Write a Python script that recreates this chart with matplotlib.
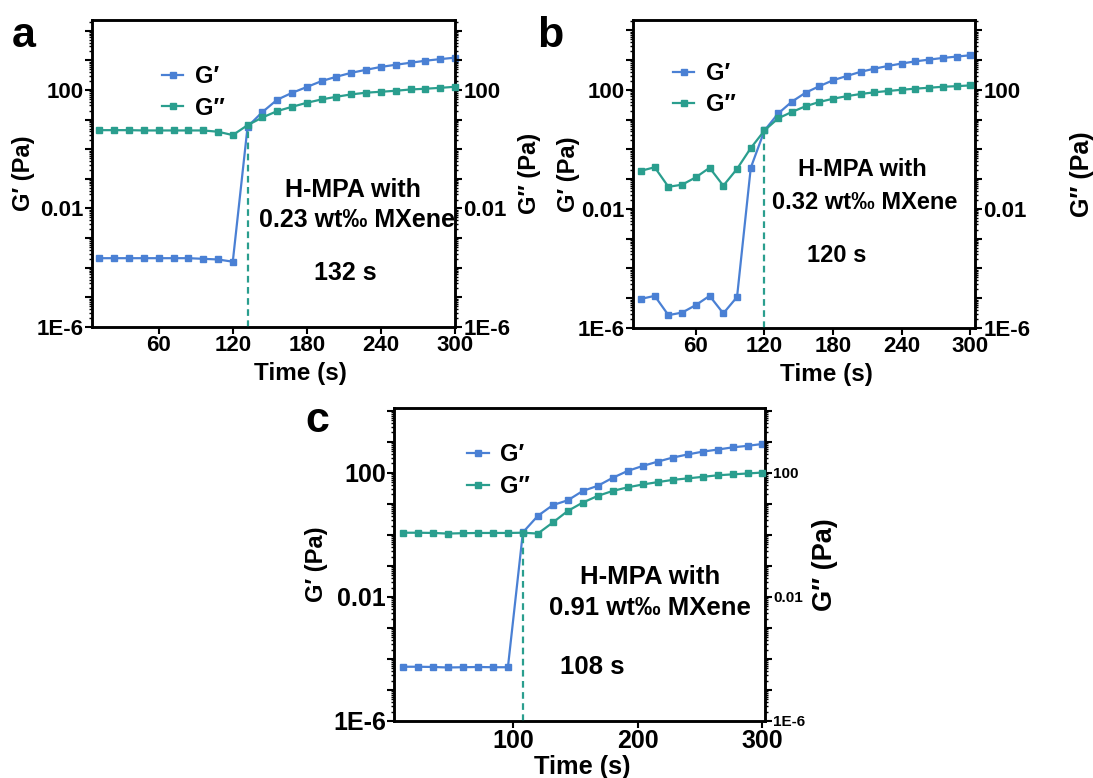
import numpy as np
import matplotlib
matplotlib.use("Agg")
import matplotlib.pyplot as plt
from matplotlib.ticker import LogLocator, FuncFormatter, NullFormatter

plt.rcParams["font.family"] = ["Liberation Sans", "DejaVu Sans"]
plt.rcParams["font.weight"] = "bold"
plt.rcParams["axes.labelweight"] = "bold"

# ---------- data ----------
time_s = [12, 24, 36, 48, 60, 72, 84, 96, 108, 120, 132, 144, 156,
          168, 180, 192, 204, 216, 228, 240, 252, 264, 276, 288, 300]

# (a) 0.23 wt‰
g1_a = [2.1e-4, 2.1e-4, 2.1e-4, 2.1e-4, 2.1e-4, 2.1e-4, 2.1e-4, 2.0e-4, 1.9e-4,
        1.6e-4, 5.8, 18, 47, 80, 126, 200, 280, 380, 480, 600, 710, 830,
        970, 1100, 1230]
g2_a = [4.4, 4.4, 4.4, 4.3, 4.3, 4.3, 4.3, 4.3, 3.9, 3.0, 6.5, 11.8, 19.4,
        27, 37, 48, 59, 71, 81, 87, 94, 104, 110, 118, 128]

# (b) 0.32 wt‰
g1_b = [9.5e-6, 1.2e-5, 2.7e-6, 3.3e-6, 5.9e-6, 1.2e-5, 3.1e-6, 1.1e-5, 0.24,
        4.3, 16, 40, 80, 132, 209, 290, 400, 510, 630, 760, 900, 1030,
        1170, 1300, 1440]
g2_b = [0.19, 0.25, 0.055, 0.065, 0.115, 0.24, 0.06, 0.22, 1.1, 4.3, 11, 18,
        28, 39, 50, 61, 72, 82, 91, 100, 109, 117, 126, 132, 140]

# (c) 0.91 wt‰
g1_c = [5.6e-5, 5.6e-5, 5.5e-5, 5.3e-5, 5.4e-5, 5.5e-5, 5.4e-5, 5.4e-5, 1.2,
        4.1, 9.1, 13, 26, 38, 69, 115, 166, 229, 309, 390, 480, 560, 660,
        740, 850]
g2_c = [1.17, 1.17, 1.15, 1.1, 1.13, 1.15, 1.15, 1.15, 1.17, 1.1, 2.5, 5.9,
        11, 18, 26, 34, 42, 50, 59, 66, 74, 83, 89, 95, 102]

gel_times = [132, 120, 108]
panel_tags = ["a", "b", "c"]
sample_text = ["0.23 wt\u2030 MXene", "0.32 wt\u2030 MXene", "0.91 wt\u2030 MXene"]
x_ticks = [[60, 120, 180, 240, 300], [60, 120, 180, 240, 300], [100, 200, 300]]

BLUE = "#4a80d4"
TEAL = "#2a9e8e"

# ---------- layout per panel ----------
# fs: tick labels, rfs: right tick labels, xfs/yfs/rfs_lab: axis labels, afs: annotation
panels = [
    dict(rect=[0.0842, 0.5797, 0.3321, 0.3946], xlim=(6, 300), ylim=(1e-6, 2.3e4),
         g1=g1_a, g2=g2_a, fs=16, rfs=16, xfs=17.5, yfs=17, ryfs=17, afs=18,
         leg=(0.193, 0.853), txt=[(0.719, 0.446), (0.730, 0.349), (0.697, 0.176)],
         xl=(0.573, -0.114), yl=-0.157, yr=1.174, tag=(12, 47)),
    dict(rect=[0.5791, 0.5784, 0.3129, 0.3959], xlim=(5, 304), ylim=(1e-6, 2.2e4),
         g1=g1_b, g2=g2_b, fs=16, rfs=16, xfs=17.5, yfs=17, ryfs=18, afs=17,
         leg=(0.117, 0.864), txt=[(0.670, 0.513), (0.678, 0.409), (0.596, 0.237)],
         xl=(0.566, -0.114), yl=-0.155, yr=1.278, tag=(537, 47)),
    dict(rect=[0.3608, 0.0733, 0.3391, 0.4019], xlim=(5, 302), ylim=(1e-6, 1.2e4),
         g1=g1_c, g2=g2_c, fs=18, rfs=11, xfs=18.3, yfs=17, ryfs=19.5, afs=18.5,
         leg=(0.197, 0.888), txt=[(0.690, 0.460), (0.690, 0.361), (0.534, 0.173)],
         xl=(0.506, -0.109), yl=-0.178, yr=1.127, tag=(305, 432)),
]

LABELED = {1e-6: "1E-6", 1e-2: "0.01", 1e2: "100"}


def fmt(v, pos):
    for k, s in LABELED.items():
        if abs(np.log10(v) - np.log10(k)) < 1e-6:
            return s
    return ""


def style_log_axis(axis):
    axis.set_major_locator(LogLocator(base=10, numticks=100))
    axis.set_minor_locator(LogLocator(base=10, subs=np.arange(2, 10), numticks=100))
    axis.set_major_formatter(FuncFormatter(fmt))
    axis.set_minor_formatter(NullFormatter())


fig = plt.figure(figsize=(10.93, 7.78), dpi=100)

for i, p in enumerate(panels):
    ax = fig.add_axes(p["rect"])
    ax2 = ax.twinx()
    for a_ in (ax, ax2):
        a_.set_yscale("log")
        a_.set_ylim(*p["ylim"])
        a_.set_xlim(*p["xlim"])
        for sp in a_.spines.values():
            sp.set_linewidth(1.8)

    l1, = ax.plot(time_s, p["g1"], "-s", color=BLUE, lw=1.6, ms=4,
                  clip_on=False, zorder=3)
    l2, = ax2.plot(time_s, p["g2"], "-s", color=TEAL, lw=1.6, ms=4,
                   clip_on=False, zorder=3)

    # gel point: dashed drop line from G'' at the crossover to the x axis
    t = gel_times[i]
    ax2.vlines(t, p["ylim"][0], p["g2"][time_s.index(t)], colors=TEAL,
               linestyles=(0, (3, 2)), lw=1.6)

    style_log_axis(ax.yaxis)
    style_log_axis(ax2.yaxis)
    ax.set_xticks(x_ticks[i])
    ax.tick_params(axis="both", which="major", direction="out", length=5,
                   width=1.5, labelsize=p["fs"], pad=1)
    ax.tick_params(axis="y", which="minor", direction="out", length=2.5, width=1)
    ax2.tick_params(axis="y", which="major", direction="out", length=5,
                    width=1.5, labelsize=p["rfs"], pad=1)
    ax2.tick_params(axis="y", which="minor", direction="out", length=2.5, width=1)

    ax.set_xlabel("Time (s)", fontsize=p["xfs"])
    ax.xaxis.set_label_coords(*p["xl"])
    ax.set_ylabel("G\u2032 (Pa)", fontsize=p["yfs"])
    ax.yaxis.set_label_coords(p["yl"], 0.5)
    ax2.set_ylabel("G\u2032\u2032 (Pa)", fontsize=p["ryfs"])
    ax2.yaxis.set_label_coords(p["yr"], 0.5)

    ax2.legend([l1, l2], ["G\u2032", "G\u2032\u2032"], loc="upper left",
               bbox_to_anchor=p["leg"], frameon=False, borderpad=0,
               borderaxespad=0, handlelength=0.9, handletextpad=0.5,
               labelspacing=0.36, numpoints=1,
               prop=dict(size=17, weight="bold"))

    (x1, y1), (x2, y2), (x3, y3) = p["txt"]
    ax.text(x1, y1, "H-MPA with", transform=ax.transAxes, ha="center",
            va="center", fontsize=p["afs"])
    ax.text(x2, y2, sample_text[i], transform=ax.transAxes, ha="center",
            va="center", fontsize=p["afs"])
    ax.text(x3, y3, f"{gel_times[i]} s", transform=ax.transAxes, ha="center",
            va="center", fontsize=p["afs"])

    tx, ty = p["tag"]
    fig.text(tx / 1093, 1 - ty / 778, panel_tags[i], fontsize=31,
             fontweight="bold", ha="left", va="baseline")

fig.savefig("out.png", dpi=100)
